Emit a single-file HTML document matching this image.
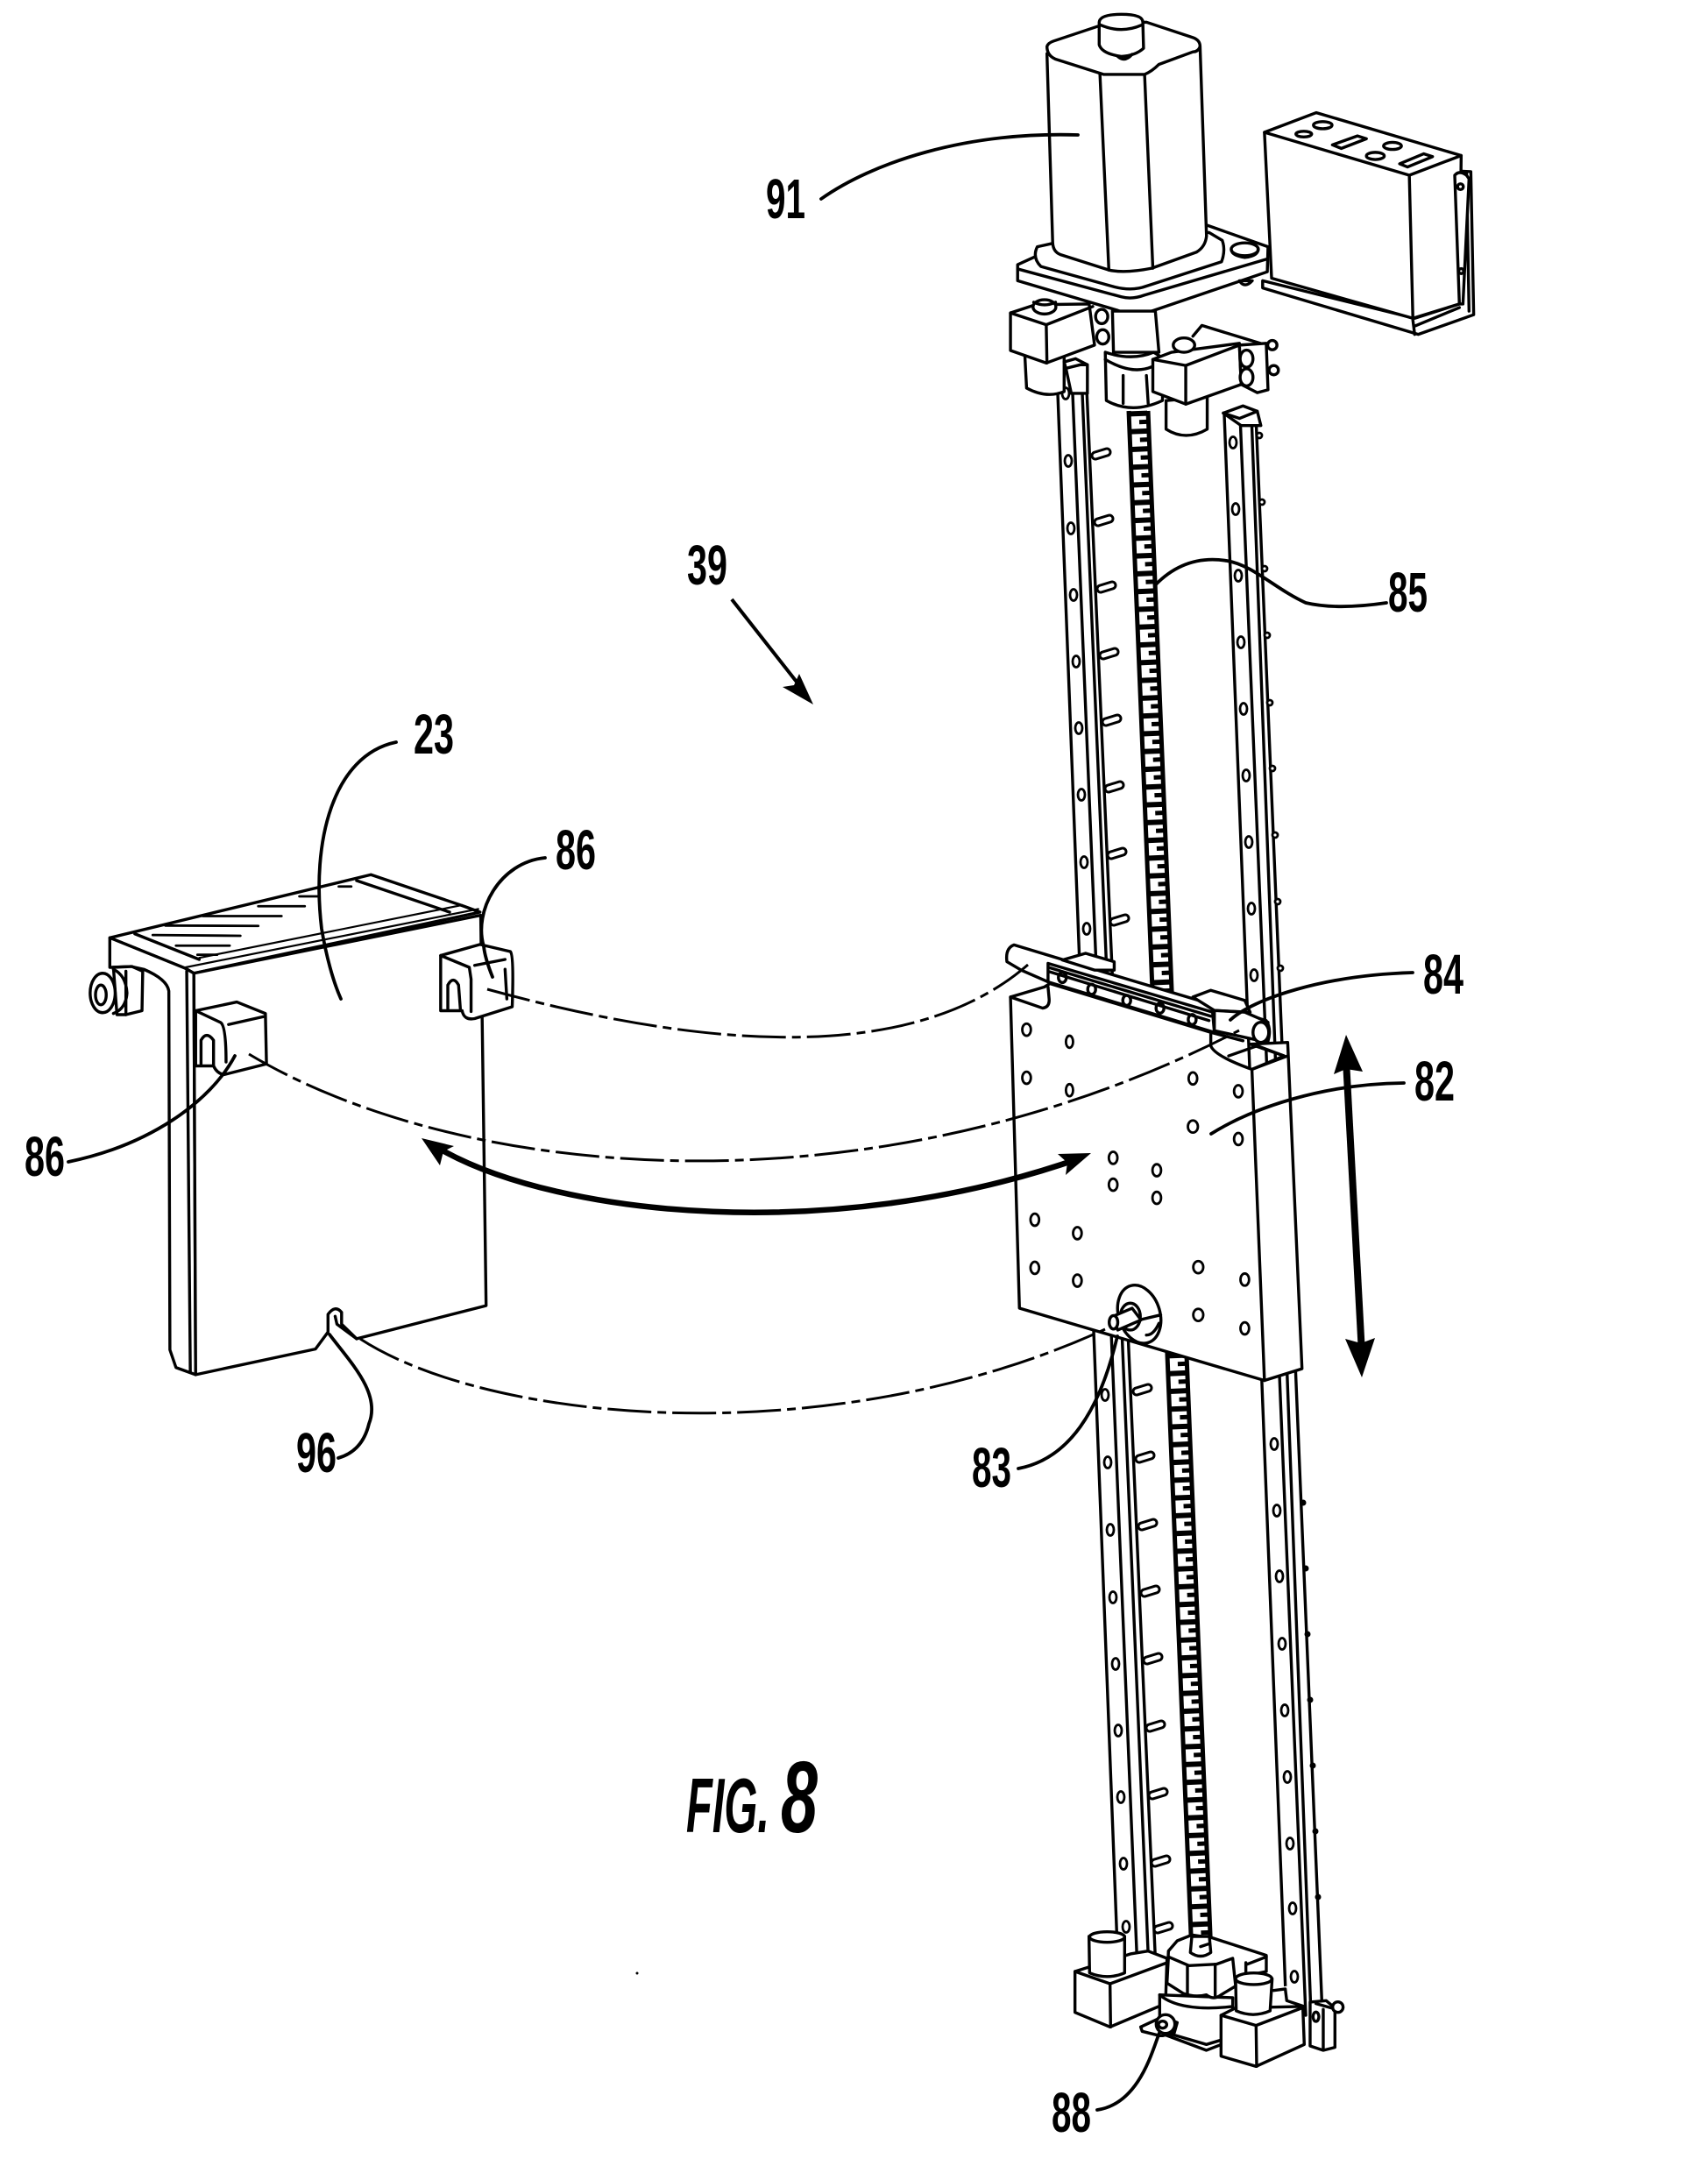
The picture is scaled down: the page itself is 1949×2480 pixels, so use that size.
<!DOCTYPE html>
<html><head><meta charset="utf-8"><style>
html,body{margin:0;padding:0;background:#fff}
svg{display:block}
svg *{vector-effect:non-scaling-stroke}
.d{fill:none;stroke:#000;stroke-width:3.4;stroke-linecap:round;stroke-linejoin:round}
.w{fill:#fff}
.t{stroke-width:2.8}
.l{fill:none;stroke:#000;stroke-width:3.8;stroke-linecap:round}
.c{fill:none;stroke:#000;stroke-width:3;stroke-dasharray:50 7 10 7}
text{font-family:"Liberation Sans Narrow","Liberation Sans",sans-serif;font-weight:bold;fill:#000}
</style></head><body>
<svg width="1949" height="2480" viewBox="0 0 1949 2480" xmlns="http://www.w3.org/2000/svg">
<rect width="1949" height="2480" fill="#fff"/>

<!-- Rails -->
<g class="d">
<path d="M1207 449L1276 2250M1224 449L1298 2250M1234 425L1311 2250M1239 420L1319 2250"/>
<path d="M1397 473L1468 2300M1415 473L1490 2300M1428 473L1496 2300M1433 473L1509 2300"/>
</g>
<!-- Rail holes -->
<g class="d t w">
<ellipse cx="1216" cy="449" rx="4" ry="6.5"/><ellipse cx="1219" cy="526" rx="4" ry="6.5"/><ellipse cx="1222" cy="603" rx="4" ry="6.5"/><ellipse cx="1225" cy="679" rx="4" ry="6.5"/><ellipse cx="1228" cy="755" rx="4" ry="6.5"/><ellipse cx="1231" cy="831" rx="4" ry="6.5"/><ellipse cx="1234" cy="907" rx="4" ry="6.5"/><ellipse cx="1237" cy="984" rx="4" ry="6.5"/><ellipse cx="1240" cy="1060" rx="4" ry="6.5"/>
<ellipse cx="1261" cy="1592" rx="4" ry="6.5"/><ellipse cx="1264" cy="1669" rx="4" ry="6.5"/><ellipse cx="1267" cy="1746" rx="4" ry="6.5"/><ellipse cx="1270" cy="1823" rx="4" ry="6.5"/><ellipse cx="1273" cy="1899" rx="4" ry="6.5"/><ellipse cx="1276" cy="1975" rx="4" ry="6.5"/><ellipse cx="1279" cy="2051" rx="4" ry="6.5"/><ellipse cx="1282" cy="2127" rx="4" ry="6.5"/><ellipse cx="1285" cy="2199" rx="4" ry="6.5"/>
<ellipse cx="1407" cy="505" rx="4" ry="6.5"/><ellipse cx="1410" cy="581" rx="4" ry="6.5"/><ellipse cx="1413" cy="657" rx="4" ry="6.5"/><ellipse cx="1416" cy="733" rx="4" ry="6.5"/><ellipse cx="1419" cy="809" rx="4" ry="6.5"/><ellipse cx="1422" cy="885" rx="4" ry="6.5"/><ellipse cx="1425" cy="961" rx="4" ry="6.5"/><ellipse cx="1428" cy="1037" rx="4" ry="6.5"/><ellipse cx="1431" cy="1113" rx="4" ry="6.5"/>
<ellipse cx="1454" cy="1648" rx="4" ry="6.5"/><ellipse cx="1457" cy="1724" rx="4" ry="6.5"/><ellipse cx="1460" cy="1799" rx="4" ry="6.5"/><ellipse cx="1463" cy="1876" rx="4" ry="6.5"/><ellipse cx="1466" cy="1952" rx="4" ry="6.5"/><ellipse cx="1469" cy="2028" rx="4" ry="6.5"/><ellipse cx="1472" cy="2104" rx="4" ry="6.5"/><ellipse cx="1475" cy="2178" rx="4" ry="6.5"/><ellipse cx="1477" cy="2256" rx="4" ry="6.5"/>
<!-- right bumps -->
<circle cx="1437" cy="497" r="3"/><circle cx="1440" cy="573" r="3"/><circle cx="1443" cy="649" r="3"/><circle cx="1446" cy="725" r="3"/><circle cx="1449" cy="802" r="3"/><circle cx="1452" cy="877" r="3"/><circle cx="1455" cy="953" r="3"/><circle cx="1458" cy="1029" r="3"/><circle cx="1461" cy="1105" r="3"/>
</g>
<g fill="#000">
<circle cx="1487" cy="1715" r="3.5"/><circle cx="1490" cy="1790" r="3.5"/><circle cx="1492" cy="1865" r="3.5"/><circle cx="1495" cy="1940" r="3.5"/><circle cx="1498" cy="2015" r="3.5"/><circle cx="1501" cy="2090" r="3.5"/><circle cx="1504" cy="2165" r="3.5"/>
</g>
<!-- Side tabs -->
<g fill="none" stroke-linecap="round">
<path stroke="#000" stroke-width="11" d="M1250 520L1263 516M1253 596L1266 592M1256 672L1269 668M1259 748L1272 744M1262 824L1275 820M1265 900L1278 896M1268 976L1281 972M1271 1052L1284 1048M1297 1588L1310 1584M1300 1665L1313 1661M1303 1742L1316 1738M1306 1818L1319 1814M1309 1895L1322 1891M1312 1972L1325 1968M1315 2049L1328 2045M1318 2126L1331 2122M1321 2202L1334 2198"/>
<path stroke="#fff" stroke-width="5" d="M1250 520L1263 516M1253 596L1266 592M1256 672L1269 668M1259 748L1272 744M1262 824L1275 820M1265 900L1278 896M1268 976L1281 972M1271 1052L1284 1048M1297 1588L1310 1584M1300 1665L1313 1661M1303 1742L1316 1738M1306 1818L1319 1814M1309 1895L1322 1891M1312 1972L1325 1968M1315 2049L1328 2045M1318 2126L1331 2122M1321 2202L1334 2198"/>
</g>
<!-- Lead screw -->
<path d="M1288 469L1360 2232M1310 469L1382 2232" fill="none" stroke="#000" stroke-width="5"/>
<path d="M1299 469L1371 2232" stroke="#000" stroke-width="20" stroke-dasharray="6 14.3" fill="none"/>
<path d="M1305 469L1377 2232" stroke="#000" stroke-width="11" stroke-dasharray="5 15.3" stroke-dashoffset="-10" fill="none"/>

<!-- Top assembly: coordinates from crop -->
<g transform="translate(1100,0) scale(.40816)" class="d">
<!-- controller box -->
<path class="w" d="M835 785L835 805L1270 935L1425 880L1417 480L1375 478L1385 850L1260 890Z"/>
<path d="M1260 912L1385 860M1405 485L1412 870M1255 895L1260 935"/>
<path class="w" d="M840 370L985 315L1390 435L1385 850L1255 890L860 778Z"/>
<path d="M840 370L1245 490L1390 435M1245 490L1255 890"/>
<ellipse cx="950" cy="375" rx="22" ry="8"/><ellipse cx="1003" cy="350" rx="26" ry="10"/><ellipse cx="1198" cy="408" rx="25" ry="10"/><ellipse cx="1150" cy="436" rx="25" ry="10"/>
<path d="M1030 405L1100 380L1125 388L1055 415ZM1218 458L1285 430L1310 438L1240 467Z"/>
<path class="w" d="M1372 490Q1385 475 1405 490L1412 500L1395 850L1385 850Z"/>
<circle cx="1388" cy="522" r="8"/><circle cx="1390" cy="758" r="7"/>
<!-- base plate -->
<path class="w" d="M150 740L205 715L680 630L850 690L848 760L510 875Q470 885 430 868L150 785Z"/>
<path d="M150 752L440 830Q470 838 505 825L845 725"/>
<path class="w" d="M205 690Q190 720 215 745L420 802Q470 815 510 800L720 732Q732 700 722 672L685 650L250 680Z"/>
<ellipse class="w" cx="785" cy="697" rx="38" ry="18"/><path d="M748 700Q750 715 785 720Q825 715 822 695"/>
<path class="w" d="M770 785Q785 808 806 785Z"/>
<!-- left block -->
<path class="w" d="M170 990L175 1085Q230 1115 280 1095L280 990Z"/>
<path class="w" d="M130 875L200 852L350 850L365 965L230 1015L130 980Z"/>
<path d="M130 875L230 908L232 1015M230 908L360 857"/>
<ellipse class="w" cx="225" cy="858" rx="32" ry="20"/><path d="M195 845Q225 860 256 845"/>
<ellipse class="w" cx="385" cy="885" rx="17" ry="20"/><ellipse class="w" cx="388" cy="942" rx="17" ry="20"/>
<!-- shaft + collar -->
<path class="w" d="M415 870L418 985L545 985L535 870Z"/>
<path class="w" d="M395 985L398 1120Q470 1160 555 1120L555 1000L530 985Q470 1010 395 985Z"/>
<path d="M395 1005Q470 1050 527 1025M445 1050L445 1128M510 1050L515 1128"/>
<!-- right block -->
<path d="M640 940L665 910L845 965"/>
<path class="w" d="M565 1120L565 1200Q620 1235 680 1200L680 1110Z"/>
<path class="w" d="M528 1005L580 985L770 960L775 1075L620 1130L528 1095Z"/>
<path d="M528 1005L620 1022L620 1130M620 1022L770 965"/>
<ellipse class="w" cx="615" cy="965" rx="30" ry="20"/>
<path class="w" d="M770 965L845 960L850 1090L820 1098L775 1075Z"/>
<ellipse class="w" cx="790" cy="1003" rx="18" ry="24"/><ellipse class="w" cx="790" cy="1055" rx="18" ry="24"/>
<circle class="w" cx="862" cy="965" r="13"/><circle class="w" cx="866" cy="1035" r="13"/>
<!-- rail caps -->
<path class="w" d="M280 1012L312 1003L345 1020L345 1100L300 1100L285 1030Z"/>
<path d="M285 1030L325 1020L345 1020"/>
<path class="w" d="M725 1155L780 1135L820 1150L830 1190L775 1190Z"/>
<path d="M725 1155L770 1170L820 1150"/>
<!-- motor -->
<path class="w" d="M232 150L248 680Q250 705 270 712L405 755Q450 765 525 750L650 705Q675 690 678 660L660 130Z"/>
<path d="M380 205L405 755M505 210L528 750"/>
<path class="w" d="M232 130Q235 120 250 115L385 70L510 62L640 105Q660 112 660 130Q655 145 640 145L545 180Q525 200 505 208L390 208L255 165Q232 155 232 130Z"/>
<path class="w" d="M378 62Q380 40 440 40Q500 40 500 62L502 135Q480 155 440 158Q385 150 378 125Z"/>
<path d="M382 70Q440 95 497 70M430 158Q450 175 470 152"/>
</g>

<!-- Bottom assembly -->
<g transform="translate(1180,2120) scale(.3333)" class="d">
<path class="w" d="M865 440L920 500L925 640L640 640L650 480L800 450Z" stroke="none"/>
<path class="w" d="M140 390L330 330L390 320L455 345L450 500L260 580L140 530Z"/>
<path d="M140 390L260 432L262 580M260 432L450 362"/>
<path class="w" d="M188 270L190 395Q250 420 310 395L310 270Z"/>
<ellipse class="w" cx="250" cy="272" rx="60" ry="18"/>
<path class="w" d="M430 470L430 600L590 660L680 625L680 480Z"/>
<path d="M430 470Q500 530 680 510M470 605L590 640L640 625"/>
<path class="w" d="M460 320L490 285L540 265L610 275L795 335L795 390L700 410L640 470L455 430Z"/>
<path class="w" d="M460 340L530 370L625 365L680 345L690 440L640 470Q615 490 590 470Q550 480 510 465L455 430Z"/>
<path d="M525 370L525 465M620 365L620 472M730 365L795 340M725 360L725 395"/>
<path class="w" d="M540 270L535 325Q570 350 605 325L600 270Z"/>
<path d="M570 305L600 295"/>
<path class="w" d="M365 580L440 545L490 565L480 600L440 610L430 610L370 595Z"/>
<circle class="w" cx="450" cy="570" r="32"/>
<ellipse cx="440" cy="572" rx="14" ry="12"/>
<path d="M820 455L860 450L865 490L925 510"/>
<path class="w" d="M640 540L690 515L920 510L925 640L760 715L640 680Z"/>
<path d="M640 540L760 575L762 715M760 575L925 512"/>
<path class="w" d="M690 415L692 525Q750 550 808 525L815 415Z"/>
<ellipse class="w" cx="752" cy="415" rx="62" ry="20"/>
<path class="w" d="M945 495L1000 490L1030 515L1030 650L990 660L945 645Z"/>
<path d="M990 520L990 655M965 500L1028 518"/>
<ellipse class="w" cx="965" cy="545" rx="10" ry="16"/>
<circle class="w" cx="1040" cy="512" r="18"/>
</g>

<!-- Carriage plate -->
<g transform="translate(1100,1040) scale(.40816,.3839)" class="d">
<path class="w" d="M120 150Q115 110 140 100L420 190L845 325Q860 350 850 385L700 350L235 210L160 175Z"/>
<path class="w" d="M275 145L340 125L420 150L420 175L365 175Z"/>
<path class="w" d="M640 255L690 235L785 265L800 300L700 295Z"/>
<path class="w" d="M235 155L695 300L700 360L235 210Z"/>
<path d="M240 168L690 312M240 180L685 325"/>
<ellipse cx="275" cy="197" rx="11" ry="15"/><ellipse cx="357" cy="232" rx="11" ry="15"/><ellipse cx="455" cy="265" rx="11" ry="15"/><ellipse cx="548" cy="288" rx="11" ry="15"/><ellipse cx="638" cy="322" rx="11" ry="15"/>
<path class="w" d="M700 295L785 300L850 330L850 390L700 355Z"/>
<ellipse class="w" cx="830" cy="360" rx="22" ry="30"/>
<path class="w" d="M130 255L225 225L240 215L690 360L690 400Q700 430 805 470L895 430L800 395L905 390L945 1360L840 1395L155 1180Z"/>
<path d="M130 255L220 288Q240 285 238 260L235 225M805 470L840 1395M805 470L905 430M740 430L820 400L895 430"/>
<path d="M690 360L780 385"/>
<g stroke-width="2.8">
<ellipse cx="175" cy="352" rx="12" ry="18"/><ellipse cx="295" cy="388" rx="10" ry="18"/><ellipse cx="175" cy="495" rx="12" ry="18"/><ellipse cx="295" cy="532" rx="10" ry="18"/><ellipse cx="640" cy="497" rx="12" ry="18"/><ellipse cx="767" cy="535" rx="12" ry="18"/><ellipse cx="640" cy="640" rx="14" ry="18"/><ellipse cx="767" cy="677" rx="12" ry="18"/><ellipse cx="417" cy="733" rx="12" ry="18"/><ellipse cx="539" cy="770" rx="12" ry="18"/><ellipse cx="417" cy="813" rx="12" ry="18"/><ellipse cx="539" cy="852" rx="12" ry="18"/><ellipse cx="198" cy="917" rx="12" ry="18"/><ellipse cx="317" cy="957" rx="12" ry="18"/><ellipse cx="198" cy="1060" rx="12" ry="18"/><ellipse cx="317" cy="1098" rx="12" ry="18"/><ellipse cx="655" cy="1058" rx="14" ry="18"/><ellipse cx="785" cy="1095" rx="12" ry="18"/><ellipse cx="655" cy="1200" rx="14" ry="18"/><ellipse cx="785" cy="1240" rx="12" ry="18"/>
</g>
<ellipse cx="490" cy="1198" rx="58" ry="88" transform="rotate(-15 490 1198)"/>
<ellipse cx="465" cy="1205" rx="28" ry="40"/>
<path d="M470 1220L550 1200M510 1260Q530 1260 545 1225"/>
<path class="w" d="M415 1205L470 1180L495 1215L430 1245Z"/><ellipse class="w" cx="418" cy="1222" rx="12" ry="20"/>
</g>

<!-- Bracket plate 23 -->
<g transform="translate(60,960) scale(.40816,.45)" class="d">
<path class="w" d="M160 245L890 85L1150 165L1195 180L395 335L370 322L160 245Z"/>
<path d="M230 235L410 300M850 100L1110 180"/>
<path stroke-width="2.2" d="M372 320L1190 172M410 296L1145 162"/>
<path stroke-width="2.8" d="M280 238L525 240M315 214L575 215M420 190L640 190M575 165L705 165M690 140L745 140M800 115L835 115M345 265L495 265M405 288L460 288"/>
<path class="w" d="M160 245L160 320L220 318L255 325Q320 350 325 380L328 1290L345 1335L400 1353L395 335L370 322Z"/>
<path d="M375 330L385 1345"/>
<path class="w" d="M395 335L1197 188L1212 1178L850 1262L808 1225L808 1195Q790 1175 770 1200L770 1245L735 1288L400 1353Z"/>
<path d="M790 1205L795 1225L850 1262"/>
<path class="w" d="M222 318L252 330L250 430L205 440L180 440L170 320Z"/>
<ellipse class="w" cx="140" cy="385" rx="35" ry="50"/><ellipse cx="135" cy="390" rx="15" ry="25"/>
<path d="M170 325Q205 340 208 385Q205 425 170 437M205 330L205 440"/>
<!-- clips -->
<path class="w" d="M1085 290L1195 262L1280 280Q1290 290 1285 420L1180 450Q1150 455 1145 430L1085 430Z"/>
<path d="M1085 290L1165 320L1170 350L1170 432M1105 425L1105 365Q1120 340 1135 365L1140 425M1265 325L1270 400M1180 315L1265 300"/>
<path class="w" d="M400 430L515 408L595 437L598 565L480 592Q460 590 450 570L400 570Z"/>
<path d="M400 430L470 460Q485 470 485 560M415 565L415 505Q430 480 450 505L450 570M492 465L590 445"/>
</g>

<!-- Dash-dot motion lines -->
<path class="c" d="M556 1129Q1000 1251 1173 1101"/>
<path class="c" d="M284 1203C530 1350 1000 1390 1414 1176"/>
<path class="c" d="M411 1528C560 1625 950 1660 1261 1517"/>

<!-- Leaders -->
<path class="l" d="M937 227C995 186 1100 150 1230 154"/>
<path class="l" d="M1318 668C1345 640 1375 636 1400 640C1430 645 1455 672 1490 688C1520 695 1555 692 1582 688"/>
<path class="l" d="M452 847C380 862 355 960 367 1060C372 1090 380 1120 389 1140"/>
<path class="l" d="M622 979C570 984 540 1040 552 1080C553 1090 558 1105 562 1115"/>
<path class="l" d="M78 1326C170 1307 240 1258 268 1205"/>
<path class="l" d="M376 1523C400 1555 435 1590 421 1625C415 1650 400 1660 386 1664"/>
<path class="l" d="M1275 1525C1255 1610 1220 1665 1162 1676"/>
<path class="l" d="M1612 1110C1510 1113 1430 1140 1404 1164"/>
<path class="l" d="M1602 1236C1510 1237 1430 1264 1382 1294"/>
<path class="l" d="M1252 2408C1300 2401 1315 2340 1323 2320"/>

<!-- 39 arrow -->
<path d="M835 684L912 782" stroke="#000" stroke-width="4" fill="none"/>
<polygon points="928,804 893,784 906,782 912,769" fill="#000"/>

<!-- Curved arrow -->
<path d="M505 1313C640 1388 950 1421 1232 1322" stroke="#000" stroke-width="6.5" fill="none"/>
<polygon points="481,1299 518,1308 506,1314 502,1330" fill="#000"/>
<polygon points="1245,1316 1207,1317 1218,1327 1216,1341" fill="#000"/>

<!-- Vertical arrow -->
<path d="M1536 1210L1554 1545" stroke="#000" stroke-width="8" fill="none"/>
<polygon points="1536,1181 1522,1226 1536,1220 1555,1223" fill="#000"/>
<polygon points="1554,1572 1535,1528 1553,1533 1569,1527" fill="#000"/>

<!-- Labels -->
<text x="874" y="249" font-size="64" textLength="45" lengthAdjust="spacingAndGlyphs">91</text>
<text x="1584" y="698" font-size="64" textLength="45" lengthAdjust="spacingAndGlyphs">85</text>
<text x="784" y="667" font-size="64" textLength="46" lengthAdjust="spacingAndGlyphs">39</text>
<text x="472" y="860" font-size="64" textLength="46" lengthAdjust="spacingAndGlyphs">23</text>
<text x="634" y="992" font-size="64" textLength="46" lengthAdjust="spacingAndGlyphs">86</text>
<text x="1624" y="1134" font-size="64" textLength="46" lengthAdjust="spacingAndGlyphs">84</text>
<text x="1614" y="1256" font-size="64" textLength="46" lengthAdjust="spacingAndGlyphs">82</text>
<text x="28" y="1342" font-size="64" textLength="46" lengthAdjust="spacingAndGlyphs">86</text>
<text x="338" y="1680" font-size="64" textLength="46" lengthAdjust="spacingAndGlyphs">96</text>
<text x="1109" y="1697" font-size="64" textLength="45" lengthAdjust="spacingAndGlyphs">83</text>
<text x="1200" y="2433" font-size="64" textLength="45" lengthAdjust="spacingAndGlyphs">88</text>
<text x="783" y="2091" font-size="88" font-style="italic" textLength="95" lengthAdjust="spacingAndGlyphs">FIG.</text>
<text x="891" y="2091" font-size="116" font-style="italic" textLength="42" lengthAdjust="spacingAndGlyphs">8</text>
<circle cx="727" cy="2252" r="1.5" fill="#000"/>
</svg>
</body></html>
